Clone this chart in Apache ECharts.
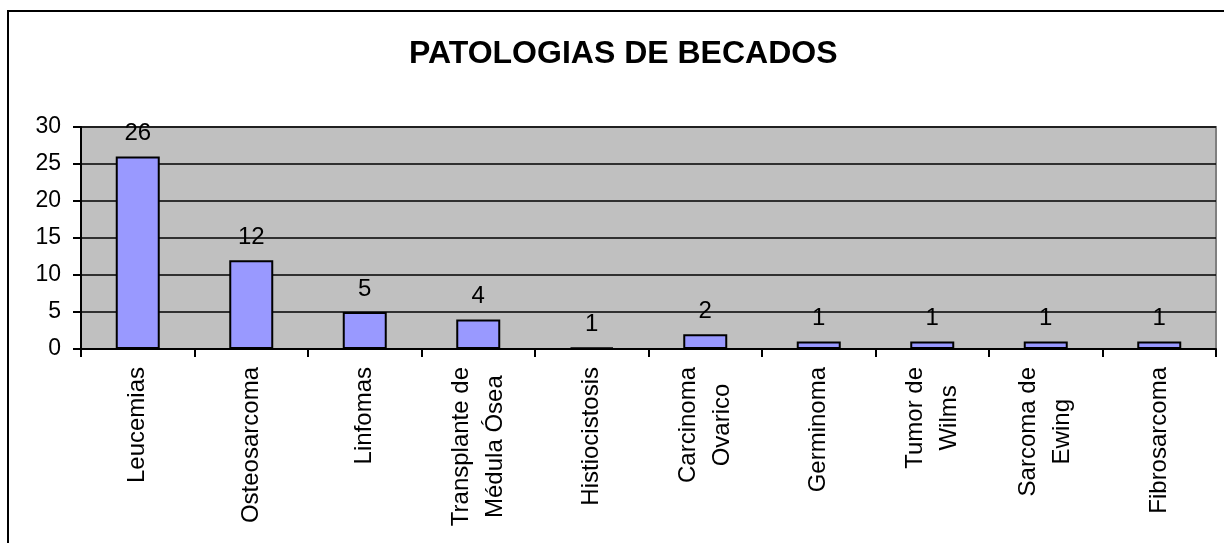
<!DOCTYPE html>
<html>
<head>
<meta charset="utf-8">
<script src="https://cdn.jsdelivr.net/npm/echarts@6/dist/echarts.min.js"></script>
<style>
  html, body { margin: 0; padding: 0; background: #fff; }
  #main { width: 1224px; height: 543px; }
</style>
</head>
<body>
<div id="main"></div>
<script>
var titleText = 'PATOLOGIAS DE BECADOS';
var categories = ['Leucemias', 'Osteosarcoma', 'Linfomas', 'Transplante de\nMédula Ósea', 'Histiocistosis',
                  'Carcinoma\nOvarico', 'Germinoma', 'Tumor de\nWilms', 'Sarcoma de\nEwing', 'Fibrosarcoma'];
// bar heights as drawn (Histiocistosis is drawn almost flat in the original)
var barValues = [26, 12, 5, 4, 0.2, 2, 1, 1, 1, 1];
// numbers printed above the bars
var valueLabels = [26, 12, 5, 4, 1, 2, 1, 1, 1, 1];

var font = 'Liberation Sans, Arial, sans-serif';

option = {
    animation: false,
    backgroundColor: '#fff',
    title: {
        text: titleText,
        left: 404,
        top: 33,
        textStyle: { fontFamily: font, fontSize: 32, fontWeight: 'bold', color: '#000' }
    },
    graphic: [
        {
            type: 'rect',
            shape: { x: 8, y: 11, width: 1400, height: 700 },
            style: { fill: 'none', stroke: '#000', lineWidth: 2 },
            z: 100
        }
    ],
    grid: {
        left: 81, right: 8, top: 127, bottom: 194,
        show: true,
        backgroundColor: '#C0C0C0',
        borderColor: '#808080',
        borderWidth: 2
    },
    xAxis: {
        type: 'category',
        data: categories,
        axisLine: { lineStyle: { color: '#000', width: 2 } },
        axisTick: { show: true, length: 8, interval: 0, lineStyle: { color: '#000', width: 2 } },
        axisLabel: {
            interval: 0,
            rotate: 90,
            margin: 18,
            color: '#000',
            fontFamily: font,
            fontSize: 24,
            formatter: function (v) {
                return v.split('\n').map(function (s) { return '{c|' + s + '}'; }).join('\n');
            },
            rich: {
                c: { align: 'center', fontFamily: font, fontSize: 24, lineHeight: 34, color: '#000' }
            }
        }
    },
    yAxis: {
        type: 'value',
        min: 0,
        max: 30,
        interval: 5,
        axisLine: { show: true, lineStyle: { color: '#000', width: 2 } },
        axisTick: { show: true, length: 8, inside: false, lineStyle: { color: '#000', width: 2 } },
        axisLabel: { margin: 20, color: '#000', fontFamily: font, fontSize: 23 },
        splitLine: { show: true, lineStyle: { color: '#000', width: 1.5 } }
    },
    series: [
        {
            type: 'bar',
            data: barValues,
            barWidth: 44,
            itemStyle: { color: '#9999FF', borderColor: '#000', borderWidth: 2 },
            label: {
                show: true,
                position: 'top',
                distance: 11,
                color: '#000',
                fontFamily: font,
                fontSize: 24,
                formatter: function (p) { return valueLabels[p.dataIndex]; }
            }
        }
    ]
};
var myChart = echarts.init(document.getElementById('main'));
myChart.setOption(option);
</script>
</body>
</html>
